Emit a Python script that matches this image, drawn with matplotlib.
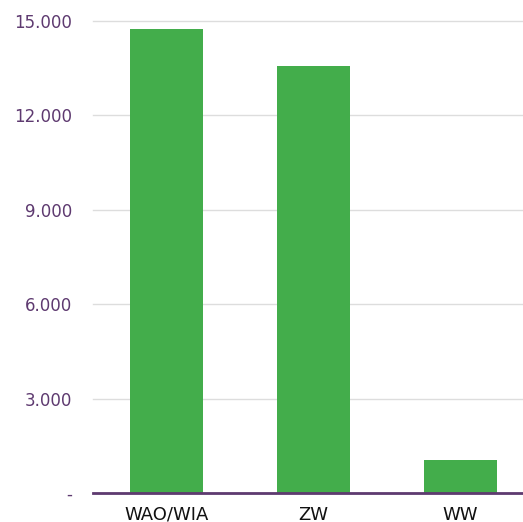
import matplotlib.pyplot as plt
from matplotlib.ticker import FuncFormatter

# Data
categories = ["WAO/WIA", "ZW", "WW"]
values = [14750, 13570, 1050]
yticks = [0, 3000, 6000, 9000, 12000, 15000]

W, H = 523, 522
fig = plt.figure(figsize=(W / 100, H / 100), dpi=100)
# axes extends a bit past the right edge, like the reference
ax = fig.add_axes([93 / W, 29 / H, 441 / W, 472 / H])

ax.bar(range(len(categories)), values, width=0.5, color="#43ad4b", zorder=2)

ax.set_xlim(-0.5, 2.5)
ax.set_ylim(0, 15000)
ax.set_yticks(yticks)
ax.set_xticks(range(len(categories)))
ax.set_xticklabels(categories)


def fmt(v, pos):
    if v == 0:
        return "-"
    return f"{int(v):,}".replace(",", ".")


ax.yaxis.set_major_formatter(FuncFormatter(fmt))
ax.grid(axis="y", color="#dddddd", linewidth=1, zorder=0)
for gl in ax.get_ygridlines():
    gl.set_clip_on(False)

for s in ["top", "right", "left"]:
    ax.spines[s].set_visible(False)
ax.spines["bottom"].set_color("#5e3a70")
ax.spines["bottom"].set_linewidth(2)
ax.spines["bottom"].set_zorder(3)

ax.tick_params(axis="y", length=0, pad=22, labelsize=12, labelcolor="#5e3a70")
for lbl in ax.get_yticklabels():
    lbl.set_x(-0.0)
ax.tick_params(axis="y", pad=23 - 8)
ax.tick_params(axis="x", length=0, pad=9, labelsize=13, labelcolor="#111111")

fig.savefig("out.png", dpi=100)
